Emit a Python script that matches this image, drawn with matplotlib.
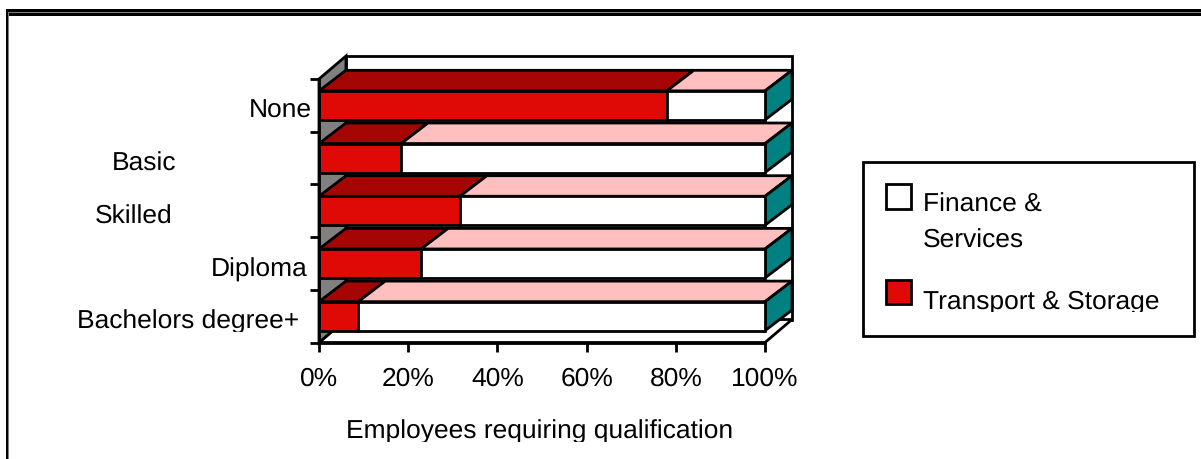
import matplotlib
matplotlib.use('Agg')
import matplotlib.pyplot as plt
from matplotlib.patches import Polygon, Rectangle
from matplotlib.transforms import Affine2D, Bbox, TransformedBbox

plt.rcParams['font.family'] = ['Liberation Sans', 'DejaVu Sans']
plt.rcParams['text.hinting'] = 'no_hinting'

W, H = 1201, 460

categories = ['None', 'Basic', 'Skilled', 'Diploma', 'Bachelors degree+']
transport = [78.0, 18.4, 31.6, 22.9, 8.8]
finance = [22.0, 81.6, 68.4, 77.1, 91.2]
xticks = [0, 20, 40, 60, 80, 100]
xlabels = ['0%', '20%', '40%', '60%', '80%', '100%']

RED = '#DF0A06'
DARK_RED = '#A60603'
PINK = '#FFBFBF'
TEAL = '#008080'
GRAY = '#808080'
LW = 2.0
FS = 19

# fake 3d depth, in data units
dx = 6.05
dy_wall = 0.436
dy_bar = 0.39
bar_h = 0.55

fig = plt.figure(figsize=(W / 100, H / 100), dpi=100)
ax = fig.add_axes([319 / W, 1 - 343.5 / H, (765 - 319) / W, (343.5 - 80) / H])
ax.set_xlim(0, 100)
ax.set_ylim(0, 5)
ax.patch.set_visible(False)

def poly(pts, color, z):
    ax.add_patch(Polygon(pts, closed=True, facecolor=color, edgecolor='k',
                         linewidth=LW, clip_on=False, zorder=z, joinstyle='miter'))

# walls and floor
poly([(dx, dy_wall), (100 + dx, dy_wall), (100 + dx, 5 + dy_wall), (dx, 5 + dy_wall)], 'white', 1)
poly([(0, 0), (100, 0), (100 + dx, dy_wall), (dx, dy_wall)], 'white', 1.1)
poly([(0, 0), (dx, dy_wall), (dx, 5 + dy_wall), (0, 5)], GRAY, 1.2)

n = len(categories)
for i in range(n):
    y = n - 1 - i + 0.5
    top = y + bar_h / 2
    bot = y - bar_h / 2
    z = 2 + i
    t = transport[i]
    poly([(0, top), (t, top), (t + dx, top + dy_bar), (dx, top + dy_bar)], DARK_RED, z)
    poly([(t, top), (t + finance[i], top), (t + finance[i] + dx, top + dy_bar), (t + dx, top + dy_bar)], PINK, z)
    poly([(100, bot), (100 + dx, bot + dy_bar), (100 + dx, top + dy_bar), (100, top)], TEAL, z)
    ax.barh(y, t, height=bar_h, color=RED, edgecolor='k', linewidth=LW, zorder=z + 0.5, clip_on=False)
    ax.barh(y, finance[i], left=t, height=bar_h, color='white', edgecolor='k', linewidth=LW, zorder=z + 0.5, clip_on=False)

for s in ['top', 'right']:
    ax.spines[s].set_visible(False)
for s in ['left', 'bottom']:
    ax.spines[s].set_linewidth(LW)
    ax.spines[s].set_zorder(20)
ax.set_xticks(xticks)
ax.set_xticklabels(xlabels, fontsize=FS)
ax.set_yticks(range(n + 1))
ax.set_yticklabels([])
ax.tick_params(axis='both', length=6.5, width=LW, color='k')
ax.tick_params(axis='x', pad=10.5)

# everything else is placed in image pixels, y going down
px = Affine2D().scale(1, -1).translate(0, H)

def label(x, y, s, ha='left', clip_y=None):
    t = fig.text(x, y, s, transform=px, ha=ha, va='baseline', fontsize=FS)
    if clip_y is not None:
        # the original cuts off descenders on some labels
        t.set_clip_box(TransformedBbox(Bbox([[0, 0], [W, clip_y]]), px))
        t.set_clip_on(True)
    return t

cat_right = [312, 176, 172, 308, 299]
cat_base = [118, 171, 224, 277, 329]
cat_clip = [None, None, None, None, 333]
for c, xr, yb, cl in zip(categories, cat_right, cat_base, cat_clip):
    label(xr, yb, c, ha='right', clip_y=cl)

label(540, 439, 'Employees requiring qualification', ha='center', clip_y=443)

# legend box
fig.add_artist(Rectangle((862.5, 163), 331, 174, transform=px, facecolor='white', edgecolor='k', linewidth=LW))
fig.add_artist(Rectangle((886, 185), 25, 24.5, transform=px, facecolor='white', edgecolor='k', linewidth=LW))
fig.add_artist(Rectangle((886, 280.5), 25, 24.5, transform=px, facecolor=RED, edgecolor='k', linewidth=LW))
label(923, 212, 'Finance &')
label(923, 248, 'Services')
label(923, 309, 'Transport & Storage', clip_y=313)

# outer frame, double line at the top
fig.add_artist(Rectangle((6, 10), W - 6, 7, transform=px, facecolor='k', edgecolor='none'))
fig.add_artist(Rectangle((8, 13), W - 8, 1, transform=px, facecolor=GRAY, edgecolor='none'))
fig.add_artist(Rectangle((6, 10), 2, H - 10, transform=px, facecolor='k', edgecolor='none'))
fig.add_artist(Rectangle((8, 13), 1, H - 13, transform=px, facecolor=GRAY, edgecolor='none'))

fig.savefig('out.png', dpi=100)
